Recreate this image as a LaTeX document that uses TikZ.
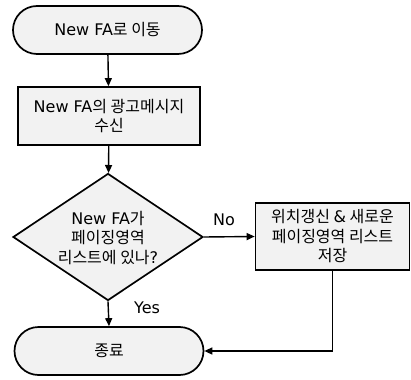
\documentclass[tikz,border=0pt]{standalone}
\usepackage{fontspec}
\setmainfont{Noto Sans CJK KR}
\newfontfamily\latinfnt{DejaVu Sans}
\newcommand{\lt}[1]{{\latinfnt #1}}
\usetikzlibrary{shapes.geometric,shapes.misc,arrows.meta}
\begin{document}
\begin{tikzpicture}[x=1pt,y=-1pt,
  every node/.style={font=\fontsize{16}{19.5}\selectfont},
  shapebase/.style={draw=black,line width=1.7pt,fill=gray!10,inner sep=0pt},
  term/.style={shapebase,rounded rectangle,minimum width=189pt,minimum height=48pt},
  procbox/.style={shapebase,rectangle,align=center},
  decision/.style={shapebase,diamond,minimum width=190pt,minimum height=127pt},
  conn/.style={line width=1.4pt,-{Triangle[length=8pt,width=7pt]}},
  lbl/.style={inner sep=0pt}]
\useasboundingbox (0,0) rectangle (411,379);
\node[term] (start) at (107.5,30) {\lt{New FA}로 이동};
\node[procbox,minimum width=182pt,minimum height=58pt] (recv) at (109,116) {\lt{New FA}의 광고메시지\\수신};
\node[decision] (dec) at (108,237) {};
\node[align=center,inner sep=0pt] (dectext) at (108,238) {\lt{New FA}가\\페이징영역\\리스트에 있나\lt{?}};
\node[procbox,minimum width=154pt,minimum height=67pt] (upd) at (332.5,236.5) {위치갱신 \lt{\&} 새로운\\페이징영역 리스트\\저장};
\node[term] (end) at (109,351) {종료};
\draw[conn] (start) -- (recv);
\draw[conn] (recv) -- (dec);
\draw[conn] (dec.east) -- (upd.west);
\node[lbl] (nolbl) at (224,220) {\lt{No}};
\draw[conn] (dec.south) -- (end.north);
\node[lbl] (yeslbl) at (147,308) {\lt{Yes}};
\coordinate (corner) at (upd.south |- end.east);
\draw[conn] (upd.south) -- (corner) -- (end.east);
\end{tikzpicture}
\end{document}
